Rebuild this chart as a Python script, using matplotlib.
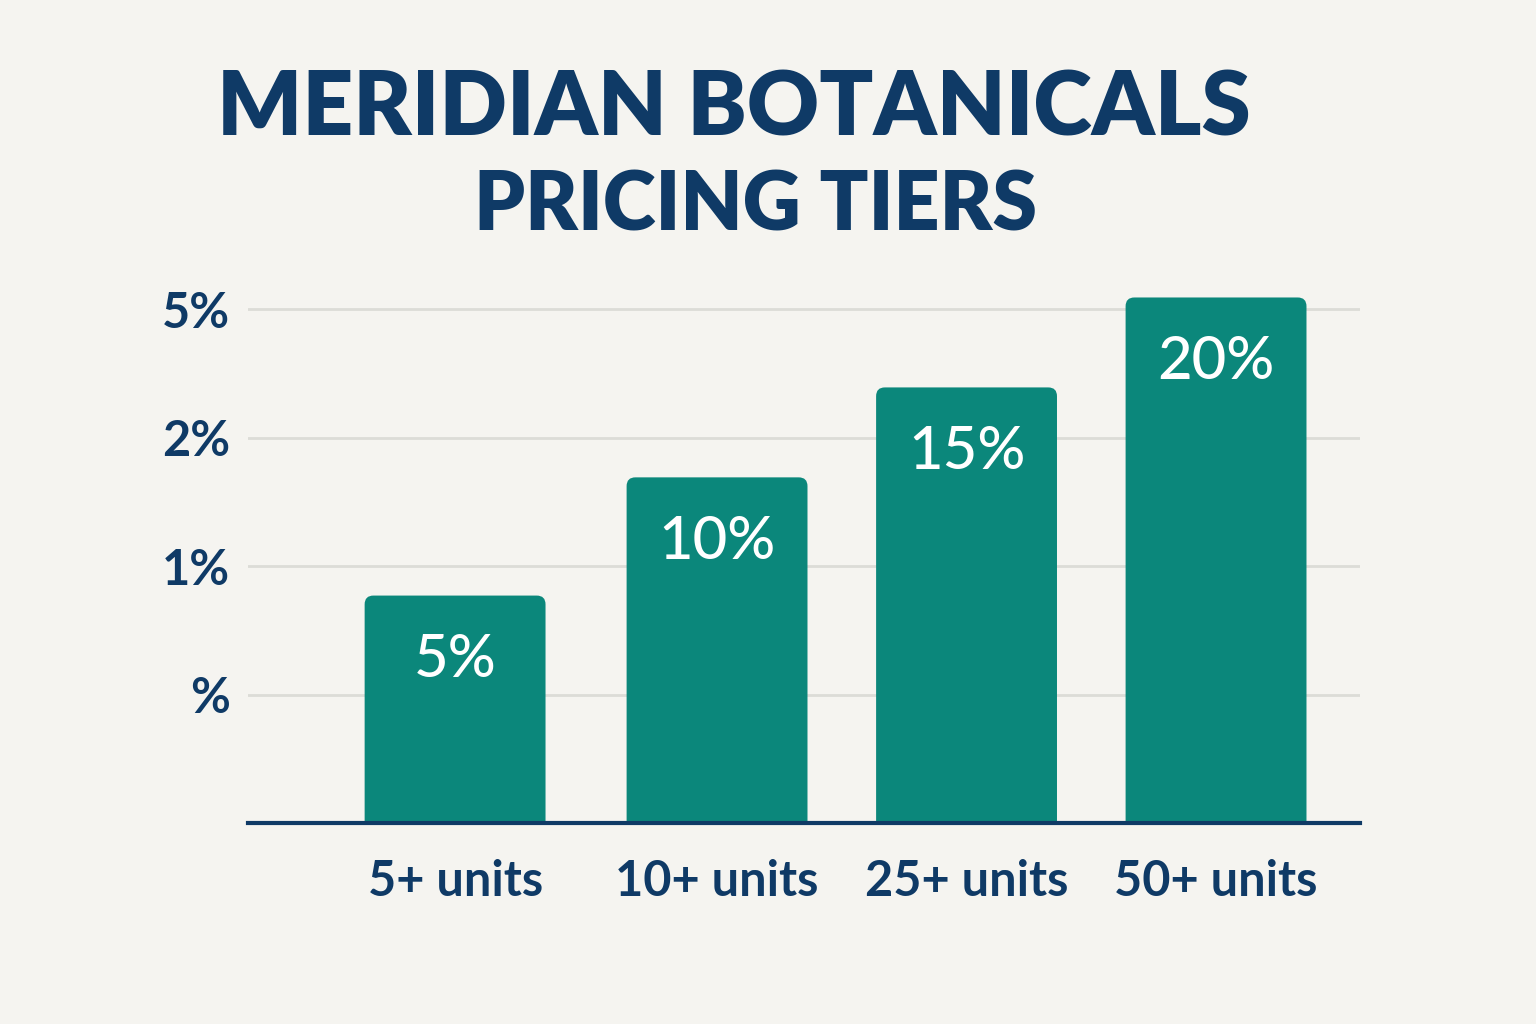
import matplotlib.pyplot as plt
from matplotlib.patches import FancyBboxPatch

# -----------------------------
# DATA
# -----------------------------
tiers = ["5+ units", "10+ units", "25+ units", "50+ units"]
discount_labels = ["5%", "10%", "15%", "20%"]
# bar heights as drawn, in gridline units
bar_heights = [1.77, 2.69, 3.39, 4.09]
ytick_values = [1, 2, 3, 4]
ytick_labels = ["%", "1%", "2%", "5%"]

navy = "#0f3a66"
teal = "#0b877b"
bg = "#f5f4f0"

plt.rcParams['font.family'] = ['Lato', 'DejaVu Sans']

fig = plt.figure(figsize=(15.36, 10.24), dpi=100, facecolor=bg)
ax = fig.add_axes([248 / 1536, 1 - 823 / 1024, 1112 / 1536, 543 / 1024])
ax.set_facecolor(bg)

# bar centres (first bar sits a little further left in the original)
x = [-0.05, 1, 2, 3]
bar_w = 0.725
bars = ax.bar(x, bar_heights, width=bar_w, color=teal, alpha=0)

ax.set_xlim(-0.88, 3.577)
ax.set_ylim(0, 4.226)

# rounded top corners: draw a rounded box that extends below the baseline
px_per_x = 1112 / (3.577 + 0.88)
px_per_y = 543 / 4.226
for b in bars:
    p = FancyBboxPatch((b.get_x(), -0.5), b.get_width(), b.get_height() + 0.5,
                       boxstyle="round,pad=0,rounding_size=0.035",
                       mutation_aspect=px_per_x / px_per_y,
                       fc=teal, ec="none", zorder=3, clip_on=True)
    ax.add_patch(p)

for xi, h, lab in zip(x, bar_heights, discount_labels):
    ax.text(xi, h - 0.5, lab, ha="center", va="center", color="white",
            fontsize=43, fontweight="medium", zorder=4)

# gridlines and axis
for v in ytick_values:
    ax.axhline(v, color="#dcdcd7", lw=2, zorder=1)
ax.axhline(0, color=navy, lw=3, zorder=5, clip_on=False)

for s in ax.spines.values():
    s.set_visible(False)
ax.set_yticks(ytick_values)
ax.set_yticklabels(ytick_labels, fontsize=35, fontweight="bold", color=navy)
ax.set_xticks(x)
ax.set_xticklabels(tiers, fontsize=35, fontweight="bold", color=navy)
ax.tick_params(length=0)
ax.tick_params(axis="y", pad=13)
ax.tick_params(axis="x", pad=26)

fig.text(0.478, 1 - 110 / 1024, "MERIDIAN BOTANICALS", ha="center", va="center",
         fontsize=64, fontweight="heavy", color=navy)
fig.text(0.492, 1 - 207 / 1024, "PRICING TIERS", ha="center", va="center",
         fontsize=58, fontweight="heavy", color=navy)

fig.savefig("out.png", dpi=100, facecolor=bg)
